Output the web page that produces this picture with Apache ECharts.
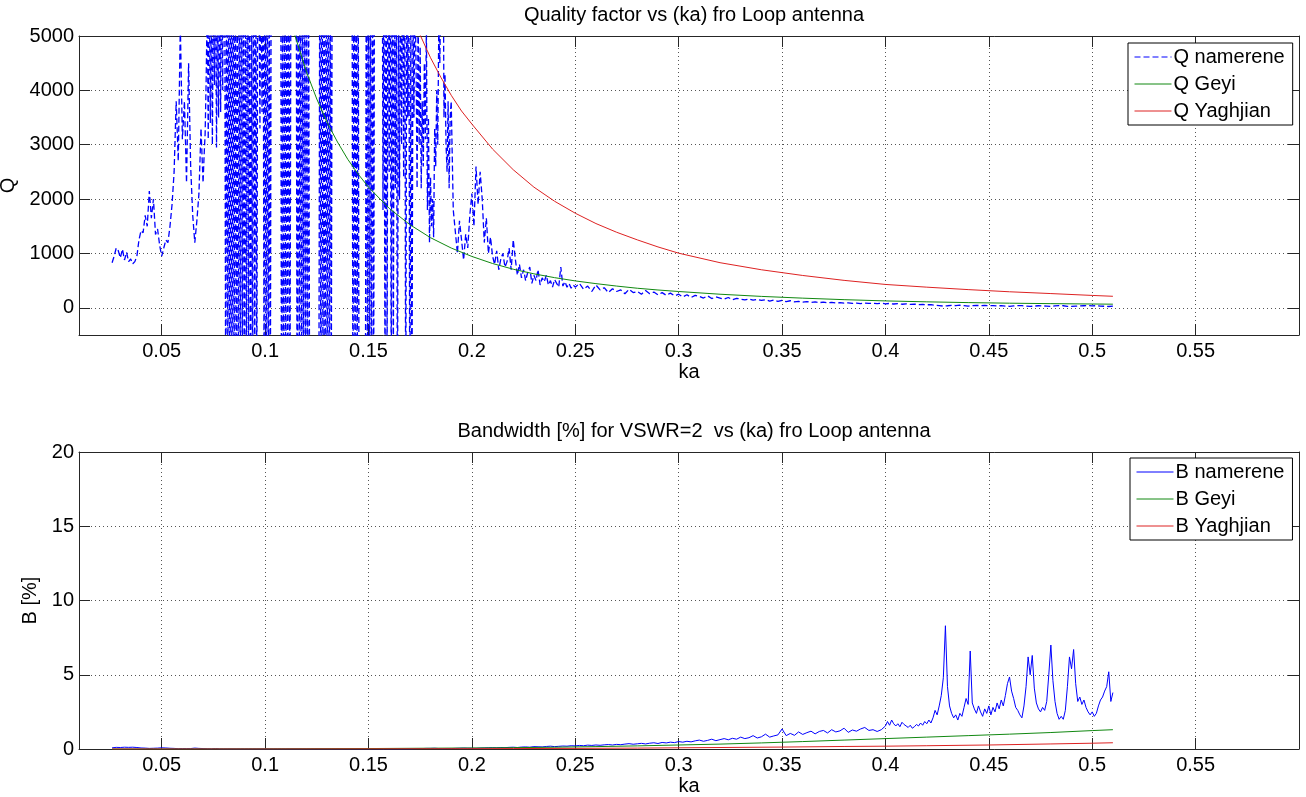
<!DOCTYPE html>
<html><head><meta charset="utf-8">
<script src="https://cdn.jsdelivr.net/npm/echarts@6/dist/echarts.min.js"></script>
<style>html,body{margin:0;padding:0;background:#fff}#c{width:1306px;height:797px}</style>
</head><body><div id="c"></div>
<script>
// ---------- tick labels ----------
const kaTicks = [0.05,0.1,0.15,0.2,0.25,0.3,0.35,0.4,0.45,0.5,0.55];
const qTicks = [0,1000,2000,3000,4000,5000];
const bTicks = [0,5,10,15,20];

// ---------- Q namerene, measured in four sampled pieces ----------
// piece 1: ka 0.026..0.069 step 0.001
const qNam1Start = 0.026, qNam1Step = 0.001;
const qNamerene1 = [
  830,950,1100,1050,920,1080,880,1020,850,900,
  810,850,950,1250,1420,1380,1700,1500,2150,1650,
  2000,1350,1450,1150,950,1100,1250,1200,1500,1900,
  2500,3800,2700,5200,3100,3800,2300,4500,2600,1700,
  1200,1600,2100,3300
];
// piece 2: ka 0.0700..0.1900 step 0.0005 (resonance region, swings far off-scale)
const qNam2Start = 0.070, qNam2Step = 0.0005;
const qNamerene2 = [
  2300,2800,3200,4200,5600,3100,6200,3400,5800,3000,
  6000,4100,6500,2950,5800,3500,6200,3600,6500,4000,
  7500,6000,-3000,9000,-2000,8000,-4000,9000,-3000,8000,
  -2500,9000,-3000,7000,-2500,8000,-3000,9000,-2000,8000,
  -3000,7000,-2000,9000,-1500,8000,-3000,6000,-2000,9000,
  -1500,7000,-2000,8000,6000,3300,7000,3600,8000,-2000,
  9000,-3000,8000,-2000,7000,-3000,8000,7000,9500,8000,
  9000,7500,8500,9000,6500,9500,-5000,8000,-4000,9000,
  -3000,8000,-2500,9000,-3000,7000,8000,9500,7500,9000,
  8000,-3000,8000,-2000,9000,-4000,7000,-2500,8500,-3000,
  9000,-4000,7000,-1500,-3000,-2500,-4000,-3500,-2000,-3000,
  -2500,-4000,-2000,8000,-3000,9000,-2000,7500,-3000,8500,
  -2500,9000,-3000,7000,-2000,8000,6000,9000,8000,7000,
  9500,8000,6500,8000,9000,7500,8000,9500,7000,8500,
  9000,8000,7000,9500,8000,-3000,9000,-2500,8000,-3000,
  7500,-4000,-3000,-2000,-3500,-2500,-3000,-2000,8000,-2500,
  9000,-3000,7000,-2500,8000,-2000,9000,7000,8500,9000,
  7500,9000,8000,9500,1800,7000,-2000,8000,-1500,9000,
  2500,8000,-2000,9000,-1500,7000,2200,6000,-2500,5800,
  2000,6500,3000,7000,2400,8000,-2500,6000,3500,7000,
  -3000,6000,-2500,5500,3500,5800,4500,2200,5500,3000,
  4800,2200,3800,2600,4500,3100,5200,1800,3500,1200,
  2400,1500,2000,1300,3300,2600,4000,3000,5200,4500,
  6000,5200,8000,3500,4300,3000,2500,3800,2200,3500,
  3800
];
// piece 3: ka 0.191..0.250 step 0.001
const qNam3Start = 0.191, qNam3Step = 0.001;
const qNamerene3 = [
  1800,1400,1000,1600,1250,
  880,1350,1100,1700,2100,1500,2600,1900,2500,2000,
  1200,1650,1000,1300,950,800,1050,700,900,1000,
  750,850,1100,700,1250,900,600,800,550,700,
  500,650,750,450,600,500,700,420,550,480,
  600,420,500,380,520,450,380,750,400,480,
  380,450,360,420,380
];
// piece 4: ka 0.252..0.510 step 0.002
const qNam4Start = 0.252, qNam4Step = 0.002;
const qNamerene4 = [
  450,340,400,300,420,330,370,280,350,300,
  330,260,340,280,300,250,320,260,290,240,
  280,230,270,220,250,200,240,190,230,210,
  180,220,170,200,180,160,190,150,175,160,
  145,165,140,155,135,150,125,145,120,135,
  115,130,110,120,105,115,100,110,95,105,
  90,100,88,95,85,92,80,88,78,85,
  80,86,76,84,74,80,70,76,66,72,
  64,68,60,64,56,58,48,42,32,38,
  45,42,48,40,30,42,45,40,44,38,
  42,36,40,32,28,36,42,40,30,26,
  32,38,36,30,24,34,40,38,28,25,
  32,34,38,40,37,38,33,28,24,30
];

// ---------- Q Geyi ----------
const qGeyiKa = [0.114,0.12,0.125,0.13,0.135,0.14,0.145,0.15,0.16,0.17,0.18,0.19,0.2,0.21,0.22,0.23,0.24,0.25,0.26,0.27,0.28,0.29,0.3,0.32,0.34,0.36,0.38,0.4,0.42,0.44,0.46,0.48,0.5,0.51];
const qGeyi   = [5060,4340,3840,3410,3050,2730,2460,2220,1830,1530,1290,1100,945,815,710,625,555,495,445,400,360,328,300,250,210,178,150,127,110,96,85,77,70,67];

// ---------- Q Yaghjian ----------
const qYaghKa = [0.174,0.18,0.185,0.19,0.195,0.2,0.21,0.22,0.23,0.24,0.25,0.26,0.27,0.28,0.29,0.3,0.32,0.34,0.36,0.38,0.4,0.42,0.44,0.46,0.48,0.5,0.51];
const qYagh   = [5100,4600,4240,3910,3620,3380,2920,2540,2220,1960,1740,1550,1390,1250,1120,1005,830,700,595,505,430,380,335,295,262,228,212];

// ---------- B namerene (ka 0.026..0.398 step 0.002) ----------
const bNamStartA = 0.026, bNamStepA = 0.002;
const bNamereneA = [
  0.08,0.11,0.10,0.12,0.11,0.12,0.10,0.07,0.06,0.04,
  0.05,0.06,0.08,0.07,0.05,0.04,0.02,0.03,0.03,0.03,
  0.06,0.04,0.03,0.02,0.01,0.03,0.01,0.01,0.01,0.01,
  0.01,0.01,0.01,0.01,0.01,0.01,0.01,0.01,0.01,0.01,
  0.01,0.01,0.01,0.01,0.01,0.01,0.01,0.01,0.01,0.01,
  0.01,0.01,0.01,0.01,0.01,0.01,0.01,0.01,0.01,0.01,
  0.01,0.01,0.01,0.01,0.01,0.01,0.01,0.01,0.01,0.01,
  0.01,0.01,0.01,0.02,0.03,0.03,0.04,0.04,0.05,0.03,
  0.02,0.03,0.03,0.04,0.05,0.06,0.05,0.05,0.04,0.06,
  0.07,0.08,0.09,0.08,0.10,0.09,0.11,0.12,0.10,0.13,
  0.14,0.12,0.16,0.15,0.14,0.17,0.19,0.16,0.18,0.20,
  0.19,0.22,0.21,0.24,0.22,0.26,0.24,0.27,0.25,0.28,
  0.30,0.27,0.31,0.29,0.33,0.36,0.32,0.35,0.38,0.34,
  0.39,0.42,0.37,0.44,0.41,0.46,0.43,0.50,0.46,0.52,
  0.48,0.55,0.60,0.52,0.58,0.66,0.56,0.63,0.70,0.62,
  0.72,0.66,0.80,0.70,0.76,0.90,0.74,0.82,1.00,0.80,
  0.88,0.95,1.35,0.90,1.05,0.92,1.15,0.98,1.10,1.20,
  1.02,1.18,1.25,1.08,1.30,1.15,1.22,1.40,1.12,1.28,
  1.20,1.35,1.45,1.25,1.30,1.18,1.30
];
// ---------- B namerene (ka 0.400..0.510 step 0.001) ----------
const bNamStartB = 0.400, bNamStepB = 0.001;
const bNamereneB = [
  1.55,1.85,1.60,1.95,1.70,1.55,1.70,1.50,1.80,1.65,
  1.55,1.45,1.60,1.40,1.50,1.65,1.55,1.75,1.60,1.85,
  1.70,1.95,1.75,2.10,2.60,2.30,2.90,3.60,4.80,8.30,
  4.20,2.90,2.40,2.10,2.30,1.95,2.40,2.20,2.80,3.40,
  3.00,6.60,3.10,2.70,2.40,2.90,2.50,2.20,2.70,2.40,
  2.90,2.30,2.80,2.50,3.10,2.70,3.30,2.90,3.60,4.40,
  4.85,3.90,3.40,2.80,2.60,2.30,2.10,2.90,4.20,6.20,
  5.00,6.30,4.10,3.10,2.70,2.50,2.80,2.60,3.20,5.00,
  7.00,4.60,3.20,2.40,2.00,2.20,2.00,2.60,4.20,6.20,
  5.40,6.70,4.40,3.20,3.50,3.00,3.30,2.80,2.50,2.30,
  2.50,2.20,2.40,2.90,3.30,3.50,3.90,4.20,5.20,3.20,
  3.80
];

// ---------- B Geyi / B Yaghjian ----------
const bGeyiKa = [0.026,0.1,0.15,0.2,0.22,0.24,0.26,0.28,0.3,0.32,0.34,0.36,0.38,0.4,0.42,0.44,0.46,0.48,0.5,0.51];
const bGeyi   = [0.0,0.01,0.03,0.07,0.09,0.12,0.16,0.21,0.27,0.33,0.41,0.50,0.60,0.70,0.80,0.90,1.00,1.11,1.24,1.30];
const bYaghKa = [0.026,0.1,0.15,0.2,0.22,0.25,0.28,0.3,0.32,0.35,0.38,0.4,0.42,0.45,0.48,0.5,0.51];
const bYagh   = [0.0,0.0,0.01,0.02,0.03,0.04,0.06,0.08,0.10,0.13,0.17,0.19,0.22,0.27,0.34,0.39,0.42];

// ---------- build ----------
function gridPts(start, step, vals){ return vals.map((v,i)=>[+(start+i*step).toFixed(5), v]); }
function pairPts(xs, ys){ return xs.map((x,i)=>[x, ys[i]]); }

const FONT = '"Liberation Sans", Arial, Helvetica, sans-serif';
const AX = '#262626';
const txt = {fontFamily: FONT, fontSize: 20, color: '#000'};
const grid0 = {left:79, top:36, width:1220, height:299, outerBoundsMode:'none', containLabel:false};
const grid1 = {left:79, top:452, width:1220, height:297, outerBoundsMode:'none', containLabel:false};

function xBottom(gi){
  return {type:'value', gridIndex:gi, position:'bottom', min:0.01, max:0.6,
    axisLine:{show:true, onZero:false, lineStyle:{color:AX, width:1}},
    axisTick:{show:true, inside:true, length:11, customValues:kaTicks, lineStyle:{color:AX, width:1}},
    axisLabel:{show:true, customValues:kaTicks, formatter:v=>String(v), margin:6, ...txt},
    splitLine:{show:true, lineStyle:{type:[1,3], color:'#555', width:1}},
    name:'ka', nameLocation:'middle', nameGap:27, nameTextStyle:{...txt}};
}
function xTop(gi){
  return {type:'value', gridIndex:gi, position:'top', min:0.01, max:0.6,
    axisLine:{show:true, onZero:false, lineStyle:{color:AX, width:1}},
    axisTick:{show:true, inside:true, length:11, customValues:kaTicks, lineStyle:{color:AX, width:1}},
    axisLabel:{show:false}, splitLine:{show:false}};
}
function yLeft(gi, mn, mx, ticks, name, gap){
  return {type:'value', gridIndex:gi, position:'left', min:mn, max:mx,
    axisLine:{show:true, onZero:false, lineStyle:{color:AX, width:1}},
    axisTick:{show:true, inside:true, length:11, customValues:ticks, lineStyle:{color:AX, width:1}},
    axisLabel:{show:true, customValues:ticks, formatter:v=>String(v), margin:5, ...txt},
    splitLine:{show:true, lineStyle:{type:[1,3], color:'#555', width:1}},
    name:name, nameLocation:'middle', nameGap:gap, nameRotate:90, nameTextStyle:{...txt}};
}
function yRight(gi, mn, mx, ticks){
  return {type:'value', gridIndex:gi, position:'right', min:mn, max:mx,
    axisLine:{show:true, onZero:false, lineStyle:{color:AX, width:1}},
    axisTick:{show:true, inside:true, length:11, customValues:ticks, lineStyle:{color:AX, width:1}},
    axisLabel:{show:false}, splitLine:{show:false}};
}
function legendCfg(names, left, top){
  return {data:names, orient:'vertical', left:left, top:top, itemWidth:37, itemHeight:12, itemGap:7,
    padding:[4,8,4,6], borderColor:'#000', borderWidth:1, backgroundColor:'#fff', borderRadius:0,
    itemStyle:{opacity:0, borderWidth:0}, lineStyle:{width:1},
    textStyle:{...txt, padding:[0,0,0,-3]}, selectedMode:false};
}
function line(name, xi, yi, data, color, type, width){
  return {name, type:'line', xAxisIndex:xi, yAxisIndex:yi, data, symbol:'none', showSymbol:false,
    lineStyle:{color, width, type}, itemStyle:{color}, clip:true, animation:false};
}

const qNamPts = gridPts(qNam1Start,qNam1Step,qNamerene1)
  .concat(gridPts(qNam2Start,qNam2Step,qNamerene2))
  .concat(gridPts(qNam3Start,qNam3Step,qNamerene3))
  .concat(gridPts(qNam4Start,qNam4Step,qNamerene4));
const bNamPts = gridPts(bNamStartA,bNamStepA,bNamereneA).concat(gridPts(bNamStartB,bNamStepB,bNamereneB));

const chart = echarts.init(document.getElementById('c'), null, {renderer:'canvas'});
chart.setOption({
  backgroundColor:'#fff',
  animation:false,
  title:[
    {text:'Quality factor vs (ka) fro Loop antenna', left:689, top:0, textAlign:'center', textStyle:{...txt, fontWeight:'normal'}},
    {text:'Bandwidth [%] for VSWR=2  vs (ka) fro Loop antenna', left:689, top:416, textAlign:'center', textStyle:{...txt, fontWeight:'normal'}}
  ],
  grid:[grid0, grid1],
  xAxis:[xBottom(0), xTop(0), xBottom(1), xTop(1)],
  yAxis:[yLeft(0,-500,5000,qTicks,'Q',52), yRight(0,-500,5000,qTicks), yLeft(1,0,20,bTicks,'B [%]',25), yRight(1,0,20,bTicks)],
  legend:[legendCfg(['Q namerene','Q Geyi','Q Yaghjian'],1128,43), legendCfg(['B namerene','B Geyi','B Yaghjian'],1130,458)],
  series:[
    line('Q namerene',0,0, qNamPts, '#0000ff', [6,3], 1.3),
    line('Q Geyi',0,0, pairPts(qGeyiKa,qGeyi), '#118811', 'solid', 1),
    line('Q Yaghjian',0,0, pairPts(qYaghKa,qYagh), '#dd2222', 'solid', 1),
    line('B namerene',2,2, bNamPts, '#0000ff', 'solid', 1),
    line('B Geyi',2,2, pairPts(bGeyiKa,bGeyi), '#118811', 'solid', 1),
    line('B Yaghjian',2,2, pairPts(bYaghKa,bYagh), '#dd2222', 'solid', 1)
  ]
});
</script></body></html>
